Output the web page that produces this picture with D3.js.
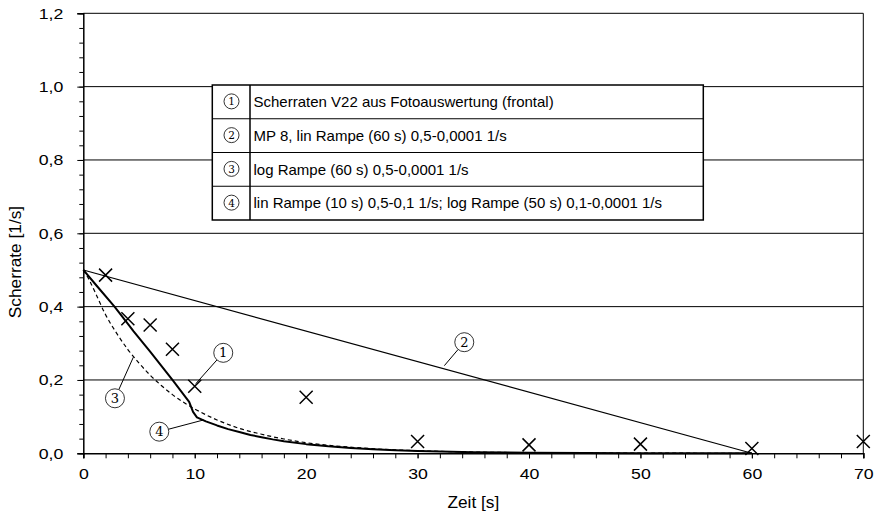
<!DOCTYPE html>
<html>
<head>
<meta charset="utf-8">
<script src="https://cdn.jsdelivr.net/npm/d3@7"></script>
<style>
  html, body { margin: 0; padding: 0; background: #fff; }
  svg { display: block; font-family: "Liberation Sans", Arial, sans-serif; }
</style>
</head>
<body>
<svg id="chart" width="877" height="517"></svg>
<script>
// Measured shear rates (crosses)
const crossTime = [2, 4, 6, 8, 10, 20, 30, 40, 50, 60, 70];
const crossRate = [0.486, 0.367, 0.35, 0.284, 0.183, 0.153, 0.032, 0.023, 0.025, 0.013, 0.032];

// MP 8, linear ramp over 60 s
const linTime = [0, 60];
const linRate = [0.5, 0.0001];

// logarithmic ramp over 60 s (dashed)
const logTime = [0, 0.5, 1, 2, 3, 4, 5, 6, 7, 8, 9, 10, 12, 14, 16, 18, 20, 25, 30, 35, 40, 45, 50, 55, 60];
const logRate = [0.5, 0.475, 0.443, 0.378, 0.327, 0.283, 0.246, 0.213, 0.185, 0.160, 0.139, 0.121, 0.091, 0.068,
                 0.052, 0.039, 0.029, 0.0144, 0.0071, 0.0035, 0.0017, 0.00085, 0.00042, 0.0002, 0.0001];

// linear ramp 10 s followed by logarithmic ramp 50 s (thick)
const combTime = [0, 1.2, 2.8, 3.9, 4.5, 6, 8, 9.5, 9.85, 10.2, 11, 12, 13, 14, 15, 16, 17, 18, 20,
                  22, 24, 26, 28, 30, 35, 40, 45, 50, 55, 60];
const combRate = [0.5, 0.457, 0.4, 0.357, 0.333, 0.277, 0.2, 0.14, 0.113, 0.098, 0.087, 0.076, 0.066, 0.058,
                  0.050, 0.044, 0.038, 0.033, 0.025, 0.019, 0.0145, 0.011, 0.0083, 0.0063, 0.0032, 0.0016,
                  0.0008, 0.0004, 0.0002, 0.0001];

// axis ticks
const xTicks = [0, 10, 20, 30, 40, 50, 60, 70];
const yTicks = [0, 0.2, 0.4, 0.6, 0.8, 1.0, 1.2];

// legend entries
const legendNums = ["1", "2", "3", "4"];
const legendTexts = [
  "Scherraten V22 aus Fotoauswertung (frontal)",
  "MP 8, lin Rampe (60 s) 0,5-0,0001 1/s",
  "log Rampe (60 s) 0,5-0,0001 1/s",
  "lin Rampe (10 s) 0,5-0,1 1/s; log Rampe (50 s) 0,1-0,0001 1/s"
];

// numbered callouts: label position and the point on the curve they refer to
const calloutNums = ["1", "2", "3", "4"];
const calloutTime = [12.56, 34.19, 2.84, 6.82];
const calloutRate = [0.274, 0.303, 0.15, 0.059];
const anchorTime = [10.1, 32.4, 4.49, 10.8];
const anchorRate = [0.19, 0.239, 0.262, 0.091];

const svg = d3.select("#chart");
const plotLeft = 83.3, plotRight = 863.3, plotTop = 13.3, plotBottom = 453.3;
const wide = 1.18;   // horizontal stretch of the tick label glyphs
const wideTitle = 1.08;

const x = d3.scaleLinear().domain([0, 70]).range([plotLeft, plotRight]);
const y = d3.scaleLinear().domain([0, 1.2]).range([plotBottom, plotTop]);

const comma = v => d3.format(".1f")(v).replace(".", ",");

// horizontal grid lines
svg.append("g").selectAll("line").data(yTicks.filter(d => d > 0)).join("line")
  .attr("x1", plotLeft).attr("x2", plotRight)
  .attr("y1", d => y(d)).attr("y2", d => y(d))
  .attr("stroke", "#000").attr("stroke-width", 1);

// right frame
svg.append("line").attr("x1", plotRight).attr("x2", plotRight).attr("y1", plotTop).attr("y2", plotBottom)
  .attr("stroke", "#000").attr("stroke-width", 1);

// y axis
const yMinor = d3.range(0, 1.2001, 0.04);
const yAxisMinor = d3.axisLeft(y).tickValues(yMinor).tickSize(4).tickFormat("");
const yAxis = d3.axisLeft(y).tickValues(yTicks).tickSize(6).tickPadding(11).tickFormat(comma);
const gyMinor = svg.append("g").attr("transform", `translate(${plotLeft},0)`).call(yAxisMinor);
gyMinor.select(".domain").remove();
const gy = svg.append("g").attr("transform", `translate(${plotLeft},0)`).call(yAxis);
gy.select(".domain").attr("stroke-width", 1.5);
gy.selectAll(".tick text").attr("font-size", 15).attr("fill", "#000")
  .attr("font-family", "Liberation Sans, Arial, sans-serif")
  .attr("transform", `scale(${wide},1)`);

// x axis
const xMinor = d3.range(0, 70.001, 2);
const xAxisMinor = d3.axisBottom(x).tickValues(xMinor).tickSize(5).tickFormat("");
const xAxis = d3.axisBottom(x).tickValues(xTicks).tickSize(5).tickPadding(10).tickFormat(d3.format("d"));
const gxMinor = svg.append("g").attr("transform", `translate(0,${plotBottom})`).call(xAxisMinor);
gxMinor.select(".domain").remove();
const gx = svg.append("g").attr("transform", `translate(0,${plotBottom})`).call(xAxis);
gx.select(".domain").attr("stroke-width", 1.5);
gx.selectAll(".tick text").attr("font-size", 15).attr("fill", "#000")
  .attr("font-family", "Liberation Sans, Arial, sans-serif")
  .attr("transform", `scale(${wide},1)`);

// axis titles
svg.append("text").attr("transform", `translate(${x(35)},508) scale(${wideTitle},1)`)
  .attr("text-anchor", "middle").attr("font-size", 16).text("Zeit [s]");
svg.append("text").attr("transform", `translate(21,262) rotate(-90) scale(${wideTitle},1)`)
  .attr("text-anchor", "middle").attr("font-size", 16).text("Scherrate [1/s]");

// legend table
const lg = svg.append("g");
const lgX = 212.3, lgCol = 250, lgR = 703.3, lgTop = 85, rowH = 33.75;
lg.append("rect").attr("x", lgX).attr("y", lgTop).attr("width", lgR - lgX).attr("height", rowH * 4)
  .attr("fill", "#fff").attr("stroke", "#000").attr("stroke-width", 1.5);
lg.append("line").attr("x1", lgCol).attr("x2", lgCol).attr("y1", lgTop).attr("y2", lgTop + rowH * 4)
  .attr("stroke", "#000").attr("stroke-width", 1.5);
lg.selectAll("line.row").data(d3.range(1, 4)).join("line").attr("class", "row")
  .attr("x1", lgX).attr("x2", lgR)
  .attr("y1", i => lgTop + i * rowH).attr("y2", i => lgTop + i * rowH)
  .attr("stroke", "#000").attr("stroke-width", 1.2);
const rows = lg.selectAll("g.entry").data(legendTexts).join("g").attr("class", "entry")
  .attr("transform", (d, i) => `translate(0,${lgTop + i * rowH + rowH / 2})`);
rows.append("circle").attr("cx", 231.5).attr("cy", -0.5).attr("r", 7.5)
  .attr("fill", "#fff").attr("stroke", "#000").attr("stroke-width", 0.8);
rows.append("text").attr("x", 231.5).attr("y", 3.5).attr("text-anchor", "middle")
  .attr("font-family", "DejaVu Serif, serif").attr("font-size", 10.5)
  .text((d, i) => legendNums[i]);
rows.append("text").attr("x", 253.5).attr("y", 5.2).attr("font-size", 15)
  .text(d => d);

// line 2: linear ramp
const line = d3.line().x(d => x(d[0])).y(d => y(d[1]));
const smooth = d3.line().x(d => x(d[0])).y(d => y(d[1])).curve(d3.curveMonotoneX);

svg.append("path").datum(d3.zip(linTime, linRate)).attr("d", line)
  .attr("fill", "none").attr("stroke", "#000").attr("stroke-width", 1.2);

// line 3: logarithmic ramp, dashed
svg.append("path").datum(d3.zip(logTime, logRate)).attr("d", smooth)
  .attr("fill", "none").attr("stroke", "#000").attr("stroke-width", 1.2)
  .attr("stroke-dasharray", "4,3");

// line 4: combined ramp
svg.append("path").datum(d3.zip(combTime, combRate)).attr("d", line)
  .attr("fill", "none").attr("stroke", "#000").attr("stroke-width", 2)
  .attr("stroke-linejoin", "round");

// measured points as crosses
const cs = 6.5;
svg.append("g").selectAll("path").data(d3.zip(crossTime, crossRate)).join("path")
  .attr("d", d => {
    const cx = x(d[0]), cy = y(d[1]);
    return `M${cx - cs},${cy - cs}L${cx + cs},${cy + cs}M${cx - cs},${cy + cs}L${cx + cs},${cy - cs}`;
  })
  .attr("stroke", "#000").attr("stroke-width", 1.5).attr("fill", "none");

// numbered callouts with leader lines
const cr = 9.5;
const callouts = svg.append("g").selectAll("g").data(calloutNums).join("g");
callouts.append("line")
  .attr("x1", (d, i) => {
    const cx = x(calloutTime[i]), cy = y(calloutRate[i]);
    const ax = x(anchorTime[i]), ay = y(anchorRate[i]);
    const len = Math.hypot(ax - cx, ay - cy);
    return cx + (ax - cx) / len * cr;
  })
  .attr("y1", (d, i) => {
    const cx = x(calloutTime[i]), cy = y(calloutRate[i]);
    const ax = x(anchorTime[i]), ay = y(anchorRate[i]);
    const len = Math.hypot(ax - cx, ay - cy);
    return cy + (ay - cy) / len * cr;
  })
  .attr("x2", (d, i) => x(anchorTime[i])).attr("y2", (d, i) => y(anchorRate[i]))
  .attr("stroke", "#000").attr("stroke-width", 1);
callouts.append("circle")
  .attr("cx", (d, i) => x(calloutTime[i])).attr("cy", (d, i) => y(calloutRate[i]))
  .attr("r", cr).attr("fill", "#fff").attr("stroke", "#000").attr("stroke-width", 0.8);
callouts.append("text")
  .attr("x", (d, i) => x(calloutTime[i])).attr("y", (d, i) => y(calloutRate[i]) + 4.5)
  .attr("text-anchor", "middle").attr("font-family", "DejaVu Serif, serif").attr("font-size", 13)
  .text(d => d);
</script>
</body>
</html>
